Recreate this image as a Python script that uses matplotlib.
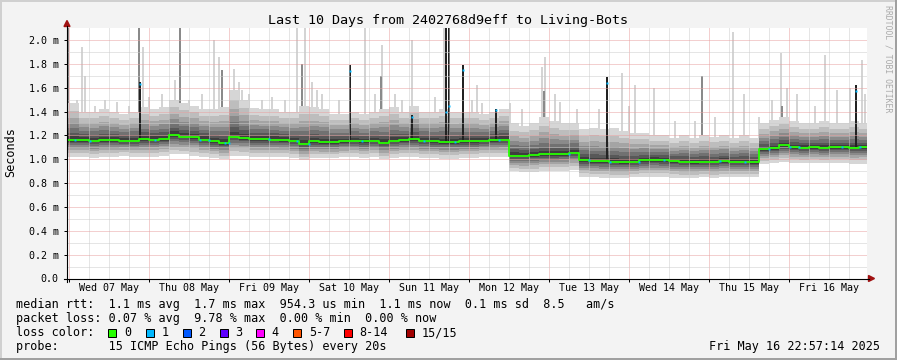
import numpy as np
import matplotlib.pyplot as plt
from matplotlib.patches import Rectangle, Polygon

plt.rcParams['font.family'] = ['DejaVu Sans Mono']

W, H = 897, 360

# time axis: hours since Wed 07 May 00:00
X_MIN, X_MAX = -0.7, 239.3
day_names = ['Wed 07 May', 'Thu 08 May', 'Fri 09 May', 'Sat 10 May', 'Sun 11 May',
             'Mon 12 May', 'Tue 13 May', 'Wed 14 May', 'Thu 15 May', 'Fri 16 May']

# 3 hour bins (bin i starts at 3*i hours), values in ms
bin_median = [1.16, 1.16, 1.155, 1.16, 1.16, 1.155, 1.155, 1.17, 1.165, 1.17,
              1.205, 1.19, 1.185, 1.165, 1.15, 1.135, 1.19, 1.18, 1.17, 1.17,
              1.165, 1.16, 1.155, 1.13, 1.15, 1.145, 1.145, 1.15, 1.155, 1.15,
              1.155, 1.14, 1.155, 1.16, 1.17, 1.155, 1.15, 1.145, 1.145, 1.15,
              1.15, 1.155, 1.16, 1.165, 1.03, 1.03, 1.035, 1.04, 1.04, 1.045,
              1.055, 0.99, 0.985, 0.985, 0.98, 0.975, 0.98, 0.99, 0.995, 0.99,
              0.985, 0.98, 0.975, 0.98, 0.98, 0.985, 0.98, 0.98, 0.975, 1.085,
              1.09, 1.115, 1.10, 1.095, 1.10, 1.095, 1.10, 1.10, 1.095, 1.10]
bin_top = [1.47, 1.40, 1.40, 1.42, 1.40, 1.38, 1.40, 1.44, 1.42, 1.44,
           1.50, 1.47, 1.45, 1.42, 1.42, 1.44, 1.58, 1.50, 1.43, 1.42,
           1.42, 1.40, 1.40, 1.45, 1.44, 1.42, 1.38, 1.38, 1.40, 1.38,
           1.40, 1.42, 1.44, 1.40, 1.45, 1.40, 1.40, 1.42, 1.40, 1.40,
           1.40, 1.38, 1.40, 1.42, 1.30, 1.28, 1.30, 1.35, 1.32, 1.30,
           1.30, 1.25, 1.26, 1.25, 1.26, 1.24, 1.22, 1.22, 1.20, 1.20,
           1.18, 1.20, 1.18, 1.20, 1.19, 1.20, 1.18, 1.20, 1.18, 1.30,
           1.33, 1.35, 1.32, 1.30, 1.30, 1.32, 1.30, 1.30, 1.32, 1.30]
bin_bottom = [1.02, 1.02, 1.01, 1.02, 1.02, 1.03, 1.02, 1.02, 1.02, 1.03,
              1.04, 1.04, 1.03, 1.02, 1.01, 1.00, 1.03, 1.03, 1.02, 1.02,
              1.02, 1.02, 1.01, 0.99, 1.01, 1.01, 1.01, 1.02, 1.02, 1.01,
              1.02, 1.00, 1.01, 1.02, 1.02, 1.01, 1.01, 1.00, 1.00, 1.01,
              1.01, 1.02, 1.02, 1.02, 0.90, 0.89, 0.89, 0.90, 0.90, 0.90,
              0.91, 0.85, 0.85, 0.84, 0.84, 0.84, 0.85, 0.85, 0.85, 0.85,
              0.84, 0.84, 0.84, 0.85, 0.84, 0.85, 0.85, 0.85, 0.85, 0.96,
              0.97, 0.98, 0.97, 0.97, 0.97, 0.97, 0.97, 0.97, 0.96, 0.96]

# nested smoke bands, outermost first
smoke_frac = [1.0, 0.78, 0.6, 0.45, 0.32, 0.2, 0.1]
smoke_grey = ['#d6d6d6', '#bdbdbd', '#a4a4a4', '#8a8a8a', '#717171', '#585858', '#3e3e3e']

# single columns reaching above the smoke (hour, top ms)
light_spike_h = [2.3, 3.8, 4.7, 7.7, 10.7, 14.3, 17.9, 22.1, 23.9, 27.8,
                 31.7, 35.9, 39.8, 43.4, 44.9, 49.4, 50.9, 51.8, 53.9, 57.8,
                 60.8, 64.7, 68.3, 70.7, 72.8, 74.3, 75.8, 80.9, 88.7, 91.7,
                 93.8, 97.7, 99.8, 102.8, 109.7, 112.4, 120.8, 122.3, 123.8, 132.2,
                 135.8, 141.8, 142.7, 145.7, 147.2, 152.3, 158.9, 165.8, 167.9, 169.7,
                 175.4, 181.7, 187.7, 193.7, 199.1, 202.4, 206.9, 210.8, 213.5, 215.3,
                 218.3, 223.7, 226.7, 230.3, 234.2, 237.8, 238.7]
light_spike_top = [1.50, 1.94, 1.70, 1.45, 1.50, 1.48, 1.45, 1.94, 1.52, 1.55,
                   1.66, 1.50, 1.55, 2.00, 1.86, 1.76, 1.65, 1.58, 1.55, 1.50,
                   1.52, 1.50, 2.15, 2.15, 1.65, 1.58, 1.55, 1.50, 2.15, 1.55,
                   1.96, 1.55, 1.50, 2.00, 1.52, 2.15, 1.50, 1.62, 1.47, 1.47,
                   1.42, 1.77, 1.86, 1.55, 1.48, 1.42, 1.42, 1.72, 1.45, 1.62,
                   1.60, 1.32, 1.32, 1.35, 2.07, 1.55, 1.35, 1.50, 1.89, 1.60,
                   1.55, 1.45, 1.87, 1.58, 1.60, 1.83, 1.55]
grey_spike_h = [-0.3, 20.9, 33.2, 45.8, 69.8, 93.5, 142.4, 189.8, 213.8]
grey_spike_top = [2.15, 2.15, 2.15, 1.75, 1.80, 1.70, 1.57, 1.70, 1.45]
black_spike_h = [21.2, 84.2, 102.8, 113.0, 113.9, 118.1, 128.0, 161.3, 236.0]
black_spike_top = [1.65, 1.79, 1.37, 2.15, 2.15, 1.79, 1.42, 1.69, 1.62]
black_spike_loss = [1.63, 1.74, 1.35, 1.40, 1.45, 1.75, 1.41, 1.64, 1.57]

# 1/15 lost on the median line
loss1_h = [1.7, 6.2, 25.7, 39.2, 41.9, 46.7, 47.9, 59.9, 68.3, 71.9,
           87.8, 106.4, 115.7, 128.9, 149.9, 155.9, 162.2, 170.9, 178.4, 195.2,
           202.7, 209.9, 216.2, 218.9, 231.8, 237.2]

loss_labels = ['0', '1', '2', '3', '4', '5-7', '8-14', '15/15']
loss_colors = ['#26ff00', '#00b8ff', '#0059ff', '#5e00ff', '#ff00fe', '#ff5500', '#ff0000', '#a10000']

legend_lines = [
    'median rtt:  1.1 ms avg  1.7 ms max  954.3 us min  1.1 ms now  0.1 ms sd  8.5   am/s',
    'packet loss: 0.07 % avg  9.78 % max  0.00 % min  0.00 % now',
    'loss color:',
    'probe:       15 ICMP Echo Pings (56 Bytes) every 20s',
]
stamp = 'Fri May 16 22:57:14 2025'
title = 'Last 10 Days from 2402768d9eff to Living-Bots'


def fx(px):
    return px / W


def fy(py):
    return 1 - py / H


fig = plt.figure(figsize=(W / 100, H / 100), dpi=100, facecolor='#f3f3f3')
ax = fig.add_axes([fx(67), fy(278.5), 800 / W, 250.5 / H])
ax.set_facecolor('white')
ax.set_xlim(X_MIN, X_MAX)
ax.set_ylim(0, 2.1)
for s in ax.spines.values():
    s.set_visible(False)

med = np.array(bin_median)
top = np.array(bin_top)
bot = np.array(bin_bottom)
edges = np.r_[X_MIN, np.arange(1, len(med)) * 3.0, X_MAX]


def ext(a):
    return np.append(a, a[-1])


def median_at(h):
    return med[min(max(int(h // 3), 0), len(med) - 1)]


# spikes under the smoke
ax.bar(light_spike_h, [t - median_at(h) for h, t in zip(light_spike_h, light_spike_top)],
       bottom=[median_at(h) for h in light_spike_h], width=0.35, color='#d4d4d4',
       linewidth=0, zorder=1)
ax.bar(grey_spike_h, [t - median_at(h) for h, t in zip(grey_spike_h, grey_spike_top)],
       bottom=[median_at(h) for h in grey_spike_h], width=0.45, color='#8a8a8a',
       linewidth=0, zorder=1.5)

for f, c in zip(smoke_frac, smoke_grey):
    lo = med - f * (med - bot)
    hi = med + f * (top - med)
    ax.fill_between(edges, ext(lo), ext(hi), step='post', color=c, linewidth=0,
                    antialiased=False, zorder=2)

ax.bar(black_spike_h, [t - median_at(h) for h, t in zip(black_spike_h, black_spike_top)],
       bottom=[median_at(h) for h in black_spike_h], width=0.6, color='#222222',
       linewidth=0, zorder=2.5)

# grid
for h in np.arange(0, 240, 6):
    major = h % 24 == 0
    ax.axvline(h, color='#e8a0a0' if major else '#cccccc', lw=0.72,
               ls=(0, (1, 1)), zorder=3)
for v in np.arange(1, 21) * 0.1:
    major = round(v * 10) % 2 == 0
    ax.axhline(v, color='#e8a0a0' if major else '#cccccc', lw=0.72,
               ls=(0, (1, 1)), zorder=3)

ax.step(edges, ext(med), where='post', color=loss_colors[0], lw=1.3, zorder=4)
ax.plot(loss1_h, [median_at(h) for h in loss1_h], 's', ms=1.8, mec='none',
        color=loss_colors[1], zorder=5)
ax.plot(black_spike_h, black_spike_loss, 's', ms=1.8, mec='none',
        color=loss_colors[1], zorder=5)

# ticks
yt = np.arange(0, 11) * 0.2
ax.set_yticks(yt)
ax.set_yticklabels(['0.0'] + ['%.1f m' % v for v in yt[1:]])
ax.set_xticks(np.arange(12, 240, 24))
ax.set_xticklabels(day_names)
ax.set_xticks(np.arange(0, 240, 24), minor=True)
ax.tick_params(axis='y', length=2, width=0.72, pad=4, labelsize=7.2, direction='out')
ax.tick_params(axis='x', which='major', length=0, pad=3.5, labelsize=7.2)
ax.tick_params(axis='x', which='minor', length=2, width=0.72, direction='out')

# axes lines and arrows
fig.add_artist(plt.Line2D([fx(64), fx(869)], [fy(278.5), fy(278.5)], color='black', lw=0.8))
fig.add_artist(plt.Line2D([fx(67), fx(67)], [fy(281.5), fy(26)], color='black', lw=0.8))
fig.add_artist(Polygon([[fx(64), fy(26.5)], [fx(70), fy(26.5)], [fx(67), fy(20.5)]],
                       closed=True, color='#a01010', transform=fig.transFigure))
fig.add_artist(Polygon([[fx(868.5), fy(275.5)], [fx(868.5), fy(281.5)], [fx(874.5), fy(278.5)]],
                       closed=True, color='#a01010', transform=fig.transFigure))

# texts
fig.text(fx(448), fy(24), title, ha='center', va='baseline', fontsize=9.6, color='black')
fig.text(fx(11), fy(152), 'Seconds', rotation=90, ha='center', va='center', fontsize=8.5)
fig.text(fx(888), fy(5), 'RRDTOOL / TOBI OETIKER', rotation=270, ha='center', va='top',
         fontsize=5.9, color='#aaaaaa')

for i, line in enumerate(legend_lines):
    fig.text(fx(16), fy(308 + 14 * i), line, ha='left', va='baseline', fontsize=8.5)
fig.text(fx(880), fy(350), stamp, ha='right', va='baseline', fontsize=8.5)

sq_x = [108.3, 145.7, 182.7, 219.7, 256.3, 293.3, 344, 405.7]
for x0, lab, col in zip(sq_x, loss_labels, loss_colors):
    fig.add_artist(Rectangle((fx(x0), fy(336.5)), 8 / W, 8 / H, facecolor=col,
                             edgecolor='black', lw=0.72, transform=fig.transFigure))
    fig.text(fx(x0 + 15.5), fy(336), lab, ha='left', va='baseline', fontsize=8.5)

# 3d border
fig.add_artist(Rectangle((0, fy(2)), 1, 2 / H, facecolor='#d0d0d0', lw=0, transform=fig.transFigure))
fig.add_artist(Rectangle((0, 0), 2 / W, 1, facecolor='#d0d0d0', lw=0, transform=fig.transFigure))
fig.add_artist(Rectangle((0, 0), 1, 2 / H, facecolor='#a0a0a0', lw=0, transform=fig.transFigure))
fig.add_artist(Rectangle((1 - 2 / W, 0), 2 / W, 1, facecolor='#a0a0a0', lw=0, transform=fig.transFigure))

fig.savefig('out.png', dpi=100, facecolor=fig.get_facecolor())
